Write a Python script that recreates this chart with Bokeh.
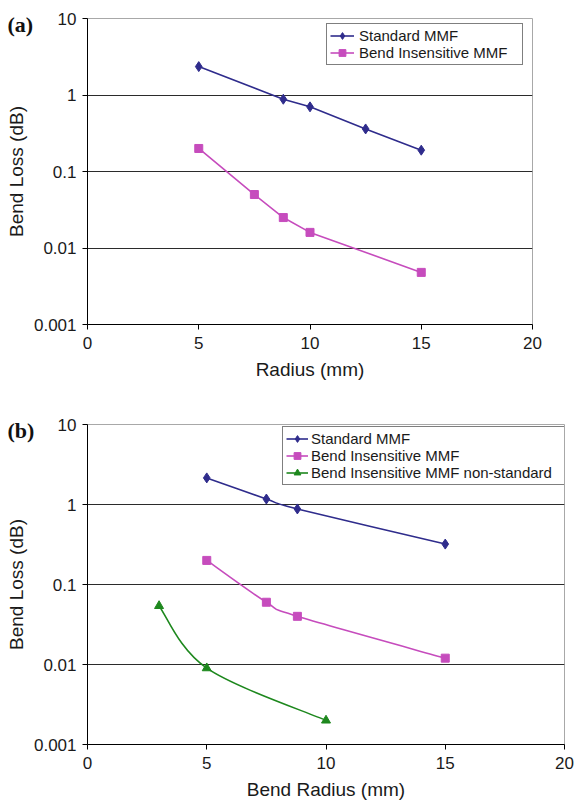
import math
from bokeh.plotting import figure
from bokeh.models import Range1d, FixedTicker, Label, Legend, LegendItem, ColumnDataSource
from bokeh.embed import file_html
from bokeh.resources import INLINE

# ---------------- data ----------------
# Panel (a)
a_std_x = [5, 8.8, 10, 12.5, 15]
a_std_y = [2.35, 0.88, 0.70, 0.36, 0.19]
a_bi_x = [5, 7.5, 8.8, 10, 15]
a_bi_y = [0.20, 0.050, 0.025, 0.016, 0.0048]

# Panel (b)
b_std_x = [5, 7.5, 8.8, 15]
b_std_y = [2.15, 1.17, 0.88, 0.32]
b_bi_x = [5, 7.5, 8.8, 15]
b_bi_y = [0.20, 0.060, 0.040, 0.012]
b_ns_x = [3, 5, 10]
b_ns_y = [0.054, 0.009, 0.002]

series_names = ["Standard MMF", "Bend Insensitive MMF", "Bend Insensitive MMF non-standard"]
x_ticks = [0, 5, 10, 15, 20]
y_ticks = [0.001, 0.01, 0.1, 1, 10]
y_tick_labels = ["0.001", "0.01", "0.1", "1", "10"]

BLUE = "#2f2c8c"
PINK = "#c64cbd"
GREEN = "#1e881e"
FONT = "Liberation Sans"


def smooth_source(xs, ys):
    """Excel-style smoothed segments (bezier control points in x / log10(y) space)."""
    lx = list(xs)
    ly = [math.log10(v) for v in ys]
    n = len(lx)
    d = dict(x0=[], y0=[], x1=[], y1=[], cx0=[], cy0=[], cx1=[], cy1=[])
    for i in range(n - 1):
        ip = max(i - 1, 0)
        inx = min(i + 2, n - 1)
        c1x = lx[i] + (lx[i + 1] - lx[ip]) / 6.0
        c1y = ly[i] + (ly[i + 1] - ly[ip]) / 6.0
        c2x = lx[i + 1] - (lx[inx] - lx[i]) / 6.0
        c2y = ly[i + 1] - (ly[inx] - ly[i]) / 6.0
        d["x0"].append(lx[i]); d["y0"].append(10 ** ly[i])
        d["x1"].append(lx[i + 1]); d["y1"].append(10 ** ly[i + 1])
        d["cx0"].append(c1x); d["cy0"].append(10 ** c1y)
        d["cx1"].append(c2x); d["cy1"].append(10 ** c2y)
    return ColumnDataSource(d)


def make_fig(height, top, bottom, right, xlabel):
    p = figure(width=574, height=height,
               x_range=Range1d(0, 20), y_range=Range1d(0.001, 10),
               y_axis_type="log", output_backend="svg", toolbar_location=None,
               min_border_left=87, min_border_right=right,
               min_border_top=top, min_border_bottom=bottom)
    p.background_fill_color = "white"
    p.border_fill_color = "white"
    p.outline_line_color = "#a8a8a8"
    p.outline_line_width = 1
    p.xgrid.visible = False
    p.ygrid.ticker = FixedTicker(ticks=y_ticks[1:4])
    p.ygrid.grid_line_color = "#2b2b2b"
    p.ygrid.grid_line_width = 1
    p.xaxis.ticker = FixedTicker(ticks=x_ticks, minor_ticks=[])
    p.yaxis.ticker = FixedTicker(ticks=y_ticks, minor_ticks=[])
    p.yaxis.major_label_overrides = dict(zip(y_ticks, y_tick_labels))
    p.xaxis.axis_label = xlabel
    p.yaxis.axis_label = "Bend Loss (dB)"
    for ax in (p.xaxis, p.yaxis):
        ax.axis_line_color = "black"
        ax.axis_line_width = 1
        ax.major_tick_line_color = "black"
        ax.major_tick_out = 5
        ax.major_tick_in = 0
        ax.minor_tick_out = 0
        ax.minor_tick_in = 0
        ax.major_label_text_font = FONT
        ax.major_label_text_font_size = "17px"
        ax.major_label_text_color = "#1a1a1a"
        ax.axis_label_text_font = FONT
        ax.axis_label_text_font_size = "19px"
        ax.axis_label_text_font_style = "normal"
        ax.axis_label_text_color = "#1a1a1a"
    p.yaxis.major_label_standoff = 6
    p.yaxis.axis_label_standoff = 4
    p.xaxis.major_label_standoff = 7
    p.xaxis.axis_label_standoff = 7
    return p


def style_legend(lg, loc, glyph_w, standoff, label_w):
    lg.location = loc
    lg.margin = 0
    lg.padding = 3
    lg.spacing = 0
    lg.label_height = 17
    lg.glyph_height = 17
    lg.glyph_width = glyph_w
    lg.label_standoff = standoff
    lg.label_width = label_w
    lg.border_line_color = "black"
    lg.border_line_width = 1
    lg.background_fill_color = "white"
    lg.background_fill_alpha = 1
    lg.label_text_font = FONT
    lg.label_text_font_size = "15px"
    lg.label_text_color = "#1a1a1a"


def panel_label(text, x, y):
    return Label(x=x, y=y, x_units="screen", y_units="screen", text=text,
                 text_font="Liberation Serif", text_font_style="bold",
                 text_font_size="22px", text_baseline="middle", text_color="#111111")


# ---------------- panel (a) ----------------
pa = make_fig(398, 18, 74, 42, "Radius (mm)")
la1 = pa.line(a_std_x, a_std_y, line_color=BLUE, line_width=1.6)
sa1 = pa.scatter(a_std_x, a_std_y, marker="diamond", size=10, fill_color=BLUE, line_color=BLUE)
la2 = pa.line(a_bi_x, a_bi_y, line_color=PINK, line_width=1.6)
sa2 = pa.scatter(a_bi_x, a_bi_y, marker="square", size=8, fill_color=PINK, line_color=PINK)
leg_a = Legend(items=[LegendItem(label=series_names[0], renderers=[la1, sa1]),
                      LegendItem(label=series_names[1], renderers=[la2, sa2])])
style_legend(leg_a, (239, 259), 24, 5, 160)
pa.add_layout(leg_a)
pa.add_layout(panel_label("(a)", -525, 300), "right")

# ---------------- panel (b) ----------------
pb = make_fig(408, 26, 62, 10, "Bend Radius (mm)")
renderers_b = []
for xs, ys, col, mk, sz in ((b_std_x, b_std_y, BLUE, "diamond", 10),
                            (b_bi_x, b_bi_y, PINK, "square", 8),
                            (b_ns_x, b_ns_y, GREEN, "triangle", 9)):
    pb.bezier(x0="x0", y0="y0", x1="x1", y1="y1", cx0="cx0", cy0="cy0", cx1="cx1", cy1="cy1",
              source=smooth_source(xs, ys), line_color=col, line_width=1.6)
    lr = pb.line(xs, ys, line_color=col, line_width=1.6, visible=False)
    sr = pb.scatter(xs, ys, marker=mk, size=sz, fill_color=col, line_color=col)
    renderers_b.append([lr, sr])
leg_b = Legend(items=[LegendItem(label=series_names[i], renderers=renderers_b[i]) for i in range(3)])
style_legend(leg_b, (195, 259), 22, 3, 250)
pb.add_layout(leg_b)
pb.add_layout(panel_label("(b)", -80, -6), "above")

open("out.html", "w").write(file_html([pa, pb], INLINE))
